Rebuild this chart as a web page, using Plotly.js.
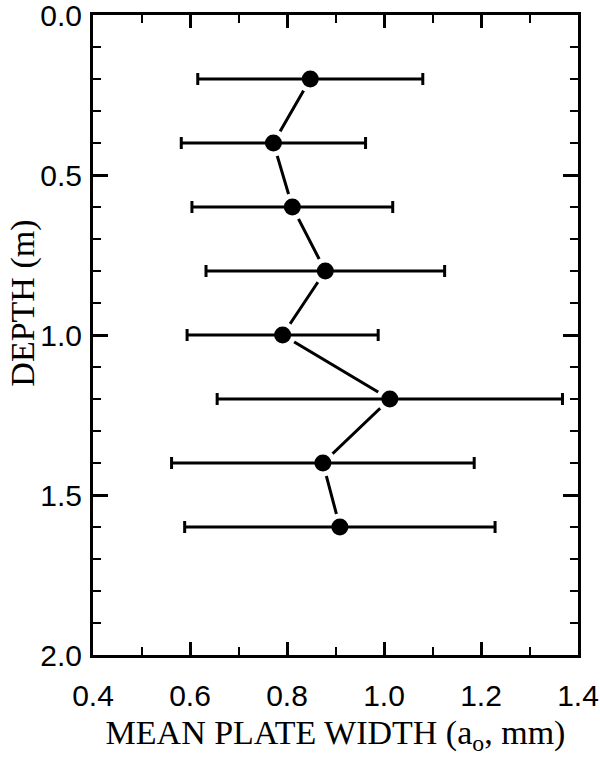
<!DOCTYPE html>
<html>
<head>
<meta charset="utf-8">
<script src="https://cdn.plot.ly/plotly-3.0.1.min.js"></script>
<style>
  body { margin: 0; background: white; }
  #graph { width: 600px; height: 759px; }
</style>
</head>
<body>
<div id="graph"></div>
<script>
// depth of each sample (m)
var depth = [0.2, 0.4, 0.6, 0.8, 1.0, 1.2, 1.4, 1.6];
// mean plate width a_o (mm)
var plateWidth = [0.848, 0.772, 0.811, 0.879, 0.791, 1.012, 0.874, 0.909];
// half length of the error bars (mm)
var widthErr = [0.232, 0.190, 0.207, 0.246, 0.197, 0.356, 0.312, 0.320];

var xTicks = [0.4, 0.6, 0.8, 1.0, 1.2, 1.4];
var yTicks = [0.0, 0.5, 1.0, 1.5, 2.0];

// connecting line; the big white markers cut it short near each point like in the original
var trace1 = {
  x: plateWidth,
  y: depth,
  mode: 'lines+markers',
  line: {color: 'black', width: 3},
  marker: {color: 'white', size: 27},
  showlegend: false
};

// points + error bars on top
var trace2 = {
  x: plateWidth,
  y: depth,
  mode: 'markers',
  marker: {color: 'black', size: 17},
  error_x: {
    type: 'data',
    array: widthErr,
    visible: true,
    color: 'black',
    thickness: 3,
    width: 6
  },
  showlegend: false
};

var tickFont = {family: 'Liberation Sans, Arial, sans-serif', size: 30, color: 'black'};
var titleFont = {family: 'Liberation Serif, Times New Roman, serif', size: 34, color: 'black'};

var layout = {
  width: 600,
  height: 759,
  margin: {l: 93, r: 22, t: 15, b: 104, pad: 0},
  paper_bgcolor: 'white',
  plot_bgcolor: 'white',
  xaxis: {
    range: [0.4, 1.4],
    tickvals: xTicks,
    ticktext: xTicks.map(function (v) { return v.toFixed(1); }),
    ticks: 'inside',
    ticklen: 13,
    tickwidth: 3,
    tickcolor: 'black',
    minor: {dtick: 0.1, tick0: 0.4, ticks: 'inside', ticklen: 8, tickwidth: 2, tickcolor: 'black'},
    showline: true,
    linewidth: 3,
    linecolor: 'black',
    mirror: 'ticks',
    showgrid: false,
    zeroline: false,
    tickfont: tickFont,
    ticklabelstandoff: 12,
    ticklabeloverflow: 'allow',
    title: {text: 'MEAN PLATE WIDTH (a<sub>o</sub>, mm)', font: titleFont, standoff: 10}
  },
  yaxis: {
    range: [2.0, 0.0],
    tickvals: yTicks,
    ticktext: yTicks.map(function (v) { return v.toFixed(1); }),
    ticks: 'inside',
    ticklen: 15,
    tickwidth: 3,
    tickcolor: 'black',
    minor: {dtick: 0.1, tick0: 0, ticks: 'inside', ticklen: 8, tickwidth: 2, tickcolor: 'black'},
    showline: true,
    linewidth: 3,
    linecolor: 'black',
    mirror: 'ticks',
    showgrid: false,
    zeroline: false,
    tickfont: tickFont,
    ticklabelstandoff: 2,
    ticklabeloverflow: 'allow'
  },
  // y title placed by hand: it sits above the middle of the axis in the original
  annotations: [{
    text: 'DEPTH (m)',
    textangle: -90,
    xref: 'paper',
    yref: 'paper',
    x: -0.145,
    y: 0.55,
    xanchor: 'center',
    yanchor: 'middle',
    showarrow: false,
    font: {family: 'Liberation Serif, Times New Roman, serif', size: 34, color: 'black'}
  }]
};

Plotly.newPlot('graph', [trace1, trace2], layout, {displayModeBar: false, staticPlot: true});
</script>
</body>
</html>
